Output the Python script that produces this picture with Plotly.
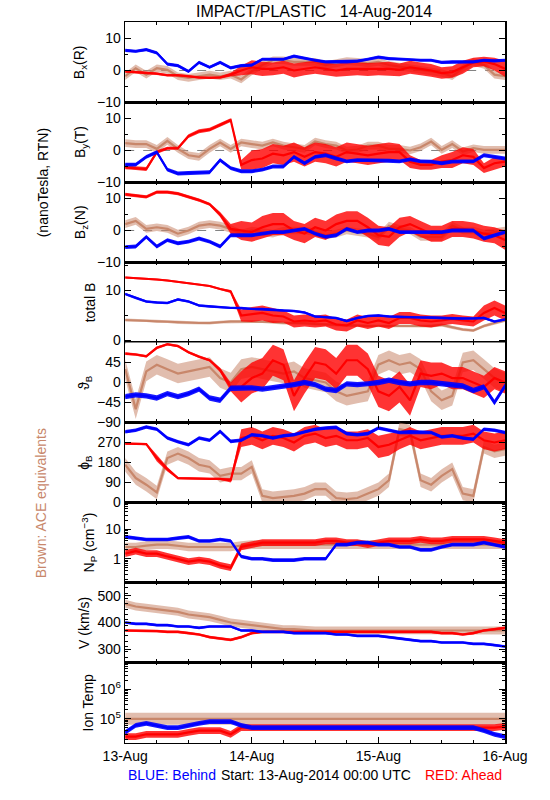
import plotly.graph_objects as go

# ---------------- data (hours since 13-Aug-2014 00:00 UTC) ----------------
hours = [0, 2, 4, 6, 8, 10, 12, 14, 16, 18, 20, 22, 24, 26, 28, 30, 32, 34, 36,
         38, 40, 42, 44, 46, 48, 50, 52, 54, 56, 58, 60, 62, 64, 66, 68, 70, 72]

day_ticks = [0, 24, 48, 72]
day_labels = ["13-Aug", "14-Aug", "15-Aug", "16-Aug"]

# Bx (R)
bx_blue = [6.3, 6.0, 6.5, 5.5, 2.0, 1.5, -0.3, 2.5, 1.0, 2.5, 0.8, 1.5, 1.7, 3.5, 3.5, 3.5, 4.5, 3.8, 3.2,
           2.7, 2.7, 2.7, 2.9, 3.5, 4.2, 3.7, 3.5, 3.5, 3.2, 3.2, 2.5, 2.7, 2.7, 2.7, 3.2, 3.0, 3.2]
bx_red = [-0.3, -0.5, -0.8, -1.0, -1.5, -1.5, -1.8, -2.2, -2.3, -2.2, -1.3, 0.0, 1.0, 0.5, 0.5, 1.0, 0.0, 0.5, 1.0,
          0.5, 0.0, 0.5, 0.5, 0.3, 0.5, 0.5, 0.2, 1.0, 0.5, 0.0, -0.8, -0.5, 1.0, 2.5, 2.8, 2.0, 0.5]
bx_ace = [-1.8, 0.7, -1.3, 0.7, 0.2, -1.8, -2.3, -1.8, -1.3, -1.8, -1.3, -2.8, -0.3, 1.7, 3.2, 3.2, 2.7, 2.7, 2.7,
          1.7, 2.2, 2.9, 2.7, 2.2, 2.7, 1.7, 1.2, 0.7, 0.2, -0.3, -0.8, -1.8, 0.7, 2.7, 1.7, -1.3, -1.8]
bx_red_spread = [0.4, 0.4, 0.4, 0.4, 0.4, 0.4, 0.4, 0.4, 0.4, 0.4, 0.6, 1.5, 2.2, 2.2, 2.0, 2.0, 2.2, 2.0, 2.0,
                 2.0, 2.0, 2.2, 2.0, 2.0, 2.0, 2.2, 2.0, 2.0, 2.0, 2.0, 1.8, 1.8, 2.0, 1.5, 1.5, 2.0, 2.5]

# By (T)
by_blue = [-4.4, -4.4, -2.0, -0.5, -6.0, -7.2, -7.0, -7.0, -6.8, -3.0, -5.5, -6.5, -6.5, -6.0, -5.0, -5.0, -2.0, -4.0, -2.0,
           -1.5, -2.5, -3.4, -3.0, -3.0, -3.0, -3.2, -3.4, -2.8, -3.4, -3.5, -4.0, -3.5, -3.4, -3.4, -1.5, -2.0, -2.5]
by_red = [-5.3, -5.5, -5.8, -0.5, 0.7, 0.7, 4.5, 6.0, 6.5, 8.0, 9.5, -4.5, -3.0, -2.5, -1.0, -1.5, -0.5, -2.0, -0.5,
          -1.0, -2.0, -0.5, -1.0, -1.5, -1.0, -0.5, -0.5, -3.5, -4.5, -4.5, -3.5, -3.0, -1.5, -2.0, -5.5, -4.0, -3.5]
by_ace = [2.3, 2.0, 2.0, 0.5, 3.0, 0.5, -1.5, -2.0, 0.5, 2.5, 0.5, 2.5, 2.0, 1.5, 2.5, 1.5, 1.0, 0.5, 2.8,
          2.0, 1.5, 0.0, 0.3, 1.5, 1.5, 0.5, 0.5, 0.0, 1.0, 2.8, 0.2, 2.0, -0.3, 0.7, 0.2, 0.2, 0.2]
by_red_spread = [0.6, 0.6, 0.6, 0.6, 0.5, 0.5, 0.6, 0.6, 0.6, 0.6, 0.6, 1.5, 3.0, 3.0, 3.0, 3.0, 3.0, 3.0, 3.0,
                 3.0, 3.0, 3.0, 3.0, 3.0, 3.0, 3.0, 2.5, 2.0, 1.5, 1.5, 2.0, 2.5, 2.5, 2.5, 1.5, 2.0, 1.5]

# Bz (N)
bz_blue = [-5.2, -5.0, -2.0, -5.0, -3.0, -4.0, -3.5, -2.5, -3.5, -5.0, -1.5, -1.5, -1.5, -1.0, -0.5, -0.5, 0.0, 0.5, -1.0,
           -2.0, -1.5, 0.5, -0.5, 0.0, 0.0, 0.5, -0.5, -0.5, -0.5, -0.5, -0.5, 0.0, 0.0, 0.0, -2.5, -1.5, -0.5]
bz_red = [11.3, 11.0, 10.5, 12.0, 12.0, 11.5, 10.5, 9.5, 8.2, 5.0, 0.5, 0.0, -0.5, 1.0, 2.0, 2.0, 0.0, -1.0, 1.0,
          0.0, 2.0, 3.0, 3.0, 1.0, -1.5, -2.0, 1.0, 2.0, 0.5, -1.0, -1.0, 0.5, 0.5, 0.0, -1.0, -1.5, -3.0]
bz_ace = [2.0, 3.0, 0.5, 1.0, 0.5, -1.0, 0.0, 1.5, 2.0, 1.5, 0.5, -1.0, 0.0, -0.5, -1.0, 0.0, 0.0, 0.0, -0.5,
          -1.5, -1.0, 0.0, -0.5, -1.0, -2.0, 1.5, 0.5, 0.0, -2.0, -2.0, -2.0, 1.5, 0.0, 0.0, -1.0, -0.5, 0.0]
bz_red_spread = [0.5, 0.5, 0.5, 0.5, 0.5, 0.5, 0.5, 0.5, 0.5, 0.8, 1.5, 3.0, 3.0, 3.5, 3.5, 3.5, 3.0, 3.0, 3.0,
                 3.0, 3.0, 3.0, 3.0, 3.0, 3.0, 3.0, 3.0, 2.5, 2.5, 2.5, 2.5, 2.5, 2.5, 2.5, 2.5, 2.5, 3.0]

# total B
bt_blue = [9.3, 8.5, 7.8, 7.6, 7.5, 8.2, 7.8, 7.0, 6.8, 6.6, 6.5, 6.5, 6.3, 6.3, 6.1, 6.0, 5.9, 5.6, 4.8,
           4.7, 4.5, 3.9, 4.5, 4.9, 5.0, 4.8, 4.7, 4.7, 4.6, 4.6, 4.5, 4.4, 4.4, 4.4, 4.5, 3.8, 4.2]
bt_red = [12.6, 12.5, 12.3, 12.2, 12.0, 11.7, 11.5, 11.2, 10.9, 10.3, 9.8, 5.0, 5.2, 5.5, 5.0, 4.8, 3.8, 4.0, 3.8,
          4.0, 3.2, 3.0, 4.0, 3.5, 4.0, 3.5, 4.5, 4.5, 4.0, 3.8, 4.0, 4.3, 4.0, 3.8, 5.5, 6.5, 5.5]
bt_ace = [4.1, 4.0, 4.0, 3.8, 3.8, 3.6, 3.5, 3.5, 3.5, 3.7, 3.8, 3.8, 3.8, 3.8, 3.7, 3.5, 3.5, 3.5, 3.3,
          3.2, 3.1, 3.0, 2.9, 2.9, 2.9, 2.9, 2.9, 2.9, 2.9, 2.9, 3.1, 2.6, 2.2, 2.0, 2.9, 3.5, 4.0]
bt_red_spread = [0.2, 0.2, 0.2, 0.2, 0.2, 0.2, 0.2, 0.2, 0.2, 0.2, 0.3, 1.2, 1.5, 1.5, 1.5, 1.2, 1.2, 1.2, 1.2,
                 1.2, 1.2, 1.2, 1.2, 1.2, 1.2, 1.2, 1.2, 1.2, 1.2, 1.2, 1.0, 1.0, 1.0, 1.0, 1.5, 1.5, 1.5]

# theta_B (deg)
th_blue = [-32, -28, -30, -35, -25, -32, -25, -15, -35, -40, -13, -13, -12, -15, -12, -8, -5, 0, -5,
           -15, -18, -3, -5, -3, 0, 5, 0, -3, 0, 0, -3, -5, -8, -18, -10, -45, -8]
th_red = [65, 63, 59, 78, 86, 82, 68, 58, 50, 28, -10, -10, 10, 20, 50, 40, -30, 10, 45,
          40, 20, 50, 50, 30, -20, -30, -10, -40, 20, 15, 20, 10, 10, 0, -10, 10, 0]
th_ace = [30, -60, 25, 40, 30, 20, 25, 30, 35, 10, 0, 30, 35, 30, 25, 20, 25, 10, 5,
          0, -20, -30, -25, -20, 40, 50, 40, 45, 30, -20, -40, -30, 45, 50, 30, 10, 0]
th_red_spread = [3, 3, 3, 3, 3, 3, 3, 3, 3, 5, 10, 35, 35, 35, 35, 35, 35, 35, 35,
                 35, 35, 35, 35, 35, 35, 35, 35, 35, 30, 30, 25, 25, 25, 25, 25, 25, 25]

# phi_B (deg)
ph_blue = [318, 325, 340, 330, 290, 273, 260, 290, 280, 320, 275, 280, 305, 300, 290, 300, 305, 318, 330,
           335, 338, 310, 305, 310, 335, 325, 315, 318, 315, 315, 295, 300, 290, 285, 330, 325, 315]
ph_red = [265, 265, 263, 200, 150, 110, 108, 108, 106, 106, 100, 290, 300, 280, 300, 290, 270, 300, 310,
          290, 300, 280, 280, 290, 250, 260, 280, 300, 280, 290, 300, 300, 300, 310, 280, 270, 280]
ph_ace = [170, 110, 80, 45, 200, 220, 200, 170, 160, 120, 130, 130, 160, 30, 20, 25, 30, 40, 60,
          60, 20, 15, 20, 40, 60, 100, 330, 320, 100, 80, 120, 150, 40, 30, 250, 230, 240]
ph_red_spread = [5, 5, 5, 15, 10, 5, 5, 5, 5, 5, 10, 40, 40, 40, 40, 40, 40, 40, 40,
                 40, 40, 40, 40, 40, 50, 50, 40, 40, 40, 40, 40, 40, 40, 40, 40, 40, 40]

# proton density (cm^-3)
np_blue = [5.5, 5.0, 4.5, 4.5, 4.5, 5.0, 5.5, 4.0, 4.0, 4.5, 4.0, 1.2, 1.0, 1.0, 0.9, 0.9, 0.9, 1.0, 1.0,
           1.0, 3.0, 3.0, 3.5, 3.5, 3.0, 3.0, 2.5, 2.5, 2.0, 2.0, 2.5, 3.0, 3.0, 3.0, 3.5, 3.0, 2.5]
np_red = [1.5, 1.8, 1.5, 1.5, 1.2, 1.0, 0.8, 0.9, 0.8, 0.6, 0.5, 2.5, 3.0, 3.5, 3.5, 3.5, 3.5, 3.5, 3.5,
          4.0, 4.0, 3.5, 3.5, 3.0, 3.5, 4.0, 4.0, 4.0, 4.5, 4.0, 4.0, 4.5, 4.5, 4.5, 4.5, 4.0, 3.5]
np_ace = [2.5, 2.5, 2.8, 3.0, 3.0, 2.8, 2.5, 2.5, 2.5, 2.5, 2.5, 2.8, 3.0, 3.0, 3.0, 3.0, 3.0, 3.0, 3.0,
          3.0, 3.0, 3.0, 3.0, 3.0, 3.0, 3.0, 3.0, 3.0, 3.0, 3.0, 3.0, 3.0, 3.0, 3.0, 3.0, 3.0, 3.0]

# bulk speed (km/s)
v_blue = [400, 395, 395, 390, 390, 385, 385, 380, 385, 385, 385, 370, 370, 365, 365, 365, 360, 360, 360,
          360, 355, 355, 350, 350, 350, 345, 340, 335, 330, 330, 325, 325, 325, 320, 320, 315, 310]
v_red = [370, 370, 368, 368, 365, 365, 360, 355, 345, 340, 335, 345, 360, 365, 365, 365, 365, 365, 365,
         365, 365, 365, 365, 365, 365, 365, 365, 365, 365, 365, 360, 360, 355, 360, 370, 375, 380]
v_ace = [470, 460, 455, 450, 445, 440, 430, 425, 420, 410, 400, 395, 390, 385, 380, 375, 375, 372, 370,
         370, 370, 370, 370, 370, 370, 370, 370, 370, 370, 370, 370, 370, 370, 370, 370, 370, 370]

# ion temperature (K)
t_blue = [3.5e4, 6e4, 7e4, 6e4, 5e4, 5e4, 6e4, 7e4, 8e4, 8e4, 8e4, 6e4, 5e4, 5e4, 5e4, 5e4, 5e4, 5e4, 5e4,
          5e4, 5e4, 5e4, 5e4, 5e4, 5e4, 5e4, 5e4, 5e4, 5e4, 5e4, 5e4, 5e4, 5e4, 5e4, 4e4, 3e4, 2.5e4]
t_red = [2.5e4, 2.5e4, 3e4, 3e4, 3e4, 3e4, 3.5e4, 4e4, 4e4, 4e4, 3e4, 5e4, 5e4, 5e4, 5e4, 5e4, 5e4, 5e4, 5e4,
         5e4, 5e4, 5e4, 5e4, 5e4, 5e4, 5e4, 5e4, 5e4, 5e4, 5e4, 5e4, 5e4, 5e4, 5e4, 5e4, 5e4, 5.5e4]
t_ace = [1e5, 1e5, 1e5, 1e5, 1e5, 1e5, 1e5, 1e5, 1e5, 1e5, 1e5, 1e5, 1e5, 1e5, 1e5, 1e5, 1e5, 1e5, 1e5,
         1e5, 1e5, 1e5, 1e5, 1e5, 1e5, 1e5, 1e5, 1e5, 1e5, 1e5, 1e5, 1e5, 1e5, 1e5, 1e5, 1e5, 1e5]

# ---------------- styling ----------------
BLUE = "#0000ff"
RED = "#ff0000"
BROWN = "#c8876b"
FONT = "Liberation Sans"

W, H = 550, 800
X0, X1 = 111.5, 526.0
TOP, BOT = 22.7, 750.0
NP = 9
ph = (BOT - TOP) / NP


def py(pix):
    return 1 - pix / H


def px(pix):
    return pix / W


panels = [
    dict(title="B<sub>x</sub>(R)", rng=[-10, 15], log=False, tv=[-10, 0, 10], tt=["−10", "0", "10"], minor=5,
         zero=True, tx=63),
    dict(title="B<sub>y</sub>(T)", rng=[-10, 15], log=False, tv=[-10, 0, 10], tt=["−10", "0", "10"], minor=5,
         zero=True, tx=64),
    dict(title="B<sub>z</sub>(N)", rng=[-10, 15], log=False, tv=[-10, 0, 10], tt=["−10", "0", "10"], minor=5,
         zero=True, tx=64),
    dict(title="total B", rng=[-0.4, 15.6], log=False, tv=[0, 10], tt=["0", "10"], minor=5, zero=False, tx=74),
    dict(title="ϑ<sub>B</sub>", rng=[-90, 90], log=False, tv=[-90, -45, 0, 45], tt=["−90", "−45", "0", "45"],
         minor=None, zero=False, tx=68),
    dict(title="ϕ<sub>B</sub>", rng=[0, 360], log=False, tv=[0, 90, 180, 270], tt=["0", "90", "180", "270"],
         minor=None, zero=False, tx=68),
    dict(title="N<sub>P</sub> (cm<sup>−3</sup>)", rng=[-0.8, 1.9], log=True, tv=[1, 10], tt=["1", "10"],
         minor="log", zero=False, tx=73),
    dict(title="V (km/s)", rng=[250, 550], log=False, tv=[300, 400, 500], tt=["300", "400", "500"], minor=20,
         zero=False, tx=67),
    dict(title="Ion Temp", rng=[4.2, 6.9], log=True, tv=[1e5, 1e6], tt=["10<sup>5</sup>", "10<sup>6</sup>"],
         minor="log", zero=False, tx=72),
]

series = [
    (bx_ace, bx_red, bx_blue, bx_red_spread, 1.2, 0.5),
    (by_ace, by_red, by_blue, by_red_spread, 1.2, 0.6),
    (bz_ace, bz_red, bz_blue, bz_red_spread, 1.2, 0.6),
    (bt_ace, bt_red, bt_blue, bt_red_spread, 0.3, 0.25),
    (th_ace, th_red, th_blue, th_red_spread, 22, 6),
    (ph_ace, ph_red, ph_blue, ph_red_spread, 30, 8),
    (np_ace, np_red, np_blue, None, 1.4, 1.15),
    (v_ace, v_red, v_blue, None, 15, 5),
    (t_ace, t_red, t_blue, None, 1.6, 1.2),
]

fig = go.Figure()


def rgba(hexc, a):
    h = hexc.lstrip("#")
    return "rgba(%d,%d,%d,%.2f)" % (int(h[0:2], 16), int(h[2:4], 16), int(h[4:6], 16), a)


def add_band(k, center, spread, color, alpha, log):
    xa = "x" if k == 0 else "x%d" % (k + 1)
    ya = "y" if k == 0 else "y%d" % (k + 1)
    if log:
        lo = [c / spread for c in center]
        hi = [c * spread for c in center]
    else:
        lo = [c - s for c, s in zip(center, spread)]
        hi = [c + s for c, s in zip(center, spread)]
    fig.add_trace(go.Scatter(x=hours + hours[::-1], y=hi + lo[::-1], fill="toself", fillcolor=rgba(color, alpha),
                             line=dict(width=0), mode="lines", hoverinfo="skip", showlegend=False,
                             xaxis=xa, yaxis=ya))
    fig.add_trace(go.Scatter(x=hours, y=center, mode="lines", line=dict(color=color, width=2.2),
                             showlegend=False, xaxis=xa, yaxis=ya))


for k, (p, s) in enumerate(zip(panels, series)):
    ace, red, blue, rsp, ace_sp, blue_sp = s
    log = p["log"]
    n = len(hours)
    if log:
        add_band(k, ace, ace_sp, BROWN, 0.55, True)
        add_band(k, red, 1.3, RED, 0.8, True)
        add_band(k, blue, blue_sp, BLUE, 0.9, True)
    else:
        add_band(k, ace, [ace_sp] * n, BROWN, 0.55, False)
        add_band(k, red, rsp if rsp is not None else [blue_sp] * n, RED, 0.8, False)
        add_band(k, blue, [blue_sp] * n, BLUE, 0.9, False)

layout = dict(
    width=W, height=H, autosize=False, paper_bgcolor="white", plot_bgcolor="white",
    margin=dict(l=0, r=0, t=0, b=0, pad=0), showlegend=False,
    font=dict(family=FONT, size=14, color="black"),
)

shapes = []
annotations = []
for k, p in enumerate(panels):
    top = TOP + k * ph
    bot = top + ph
    xn = "xaxis" if k == 0 else "xaxis%d" % (k + 1)
    yn = "yaxis" if k == 0 else "yaxis%d" % (k + 1)
    yref = "y" if k == 0 else "y%d" % (k + 1)
    xref = "x" if k == 0 else "x%d" % (k + 1)
    last = k == NP - 1
    layout[xn] = dict(
        domain=[px(X0), px(X1)], anchor=yref, range=[0, 72], showgrid=False, zeroline=False,
        showline=True, linecolor="black", linewidth=1.5, mirror="ticks",
        ticks="inside", ticklen=6, tickwidth=1, tickcolor="black",
        tickmode="array", tickvals=day_ticks, ticktext=day_labels if last else ["", "", "", ""],
        showticklabels=last, tickfont=dict(size=14),
        minor=dict(ticks="inside", ticklen=3, tickwidth=1, tickcolor="black", tickmode="array",
                   tickvals=[6, 12, 18, 30, 36, 42, 54, 60, 66]),
    )
    ya = dict(
        domain=[py(bot), py(top)], anchor=xref, range=p["rng"], showgrid=False, zeroline=False,
        showline=True, linecolor="black", linewidth=1.5, mirror="ticks",
        ticks="inside", ticklen=6, tickwidth=1, tickcolor="black",
        tickmode="array", tickvals=p["tv"], ticktext=p["tt"], tickfont=dict(size=14),
    )
    if p["log"]:
        ya["type"] = "log"
        mv = []
        for dec in [0.1, 1, 10, 100, 1e4, 1e5, 1e6, 1e7]:
            for m in range(2, 10):
                mv.append(dec * m)
        ya["minor"] = dict(ticks="inside", ticklen=3, tickwidth=1, tickcolor="black", tickmode="array", tickvals=mv)
    elif p["minor"]:
        lo, hi = p["rng"]
        mv = list(range(int(lo), int(hi) + 1, p["minor"]))
        ya["minor"] = dict(ticks="inside", ticklen=3, tickwidth=1, tickcolor="black", tickmode="array", tickvals=mv)
    layout[yn] = ya
    if p["zero"]:
        shapes.append(dict(type="line", xref=xref, yref=yref, x0=0, x1=72, y0=0, y1=0,
                           line=dict(color="#808080", width=1, dash="dash"), layer="below"))
    annotations.append(dict(text=p["title"], xref="paper", yref="paper", x=px(p["tx"]), y=py((top + bot) / 2),
                            textangle=-90, showarrow=False, font=dict(size=14), xanchor="center", yanchor="middle"))

annotations += [
    dict(text="IMPACT/PLASTIC   14-Aug-2014", xref="paper", yref="paper", x=px(318), y=py(12), showarrow=False,
         font=dict(size=16), xanchor="center", yanchor="middle"),
    dict(text="(nanoTesla, RTN)", xref="paper", yref="paper", x=px(22), y=py(185), textangle=-90, showarrow=False,
         font=dict(size=14), xanchor="center", yanchor="middle"),
    dict(text="Brown: ACE equivalents", xref="paper", yref="paper", x=px(20), y=py(508), textangle=-90,
         showarrow=False, font=dict(size=14, color=BROWN), xanchor="center", yanchor="middle"),
    dict(text="BLUE: Behind", xref="paper", yref="paper", x=px(112), y=py(783), showarrow=False,
         font=dict(size=14, color=BLUE), xanchor="left", yanchor="middle"),
    dict(text="Start: 13-Aug-2014 00:00 UTC", xref="paper", yref="paper", x=px(320), y=py(783), showarrow=False,
         font=dict(size=14), xanchor="center", yanchor="middle"),
    dict(text="RED: Ahead", xref="paper", yref="paper", x=px(525), y=py(783), showarrow=False,
         font=dict(size=14, color=RED), xanchor="right", yanchor="middle"),
]
layout["shapes"] = shapes
layout["annotations"] = annotations
fig.update_layout(**layout)
fig.write_html("out.html", config={"staticPlot": True, "displayModeBar": False, "responsive": False})

# remove default page margins so the figure sits at the window origin
with open("out.html", "r", encoding="utf-8") as f:
    html = f.read()
html = html.replace("<head>", "<head><style>html,body{margin:0;padding:0;overflow:hidden;}</style>", 1)
with open("out.html", "w", encoding="utf-8") as f:
    f.write(html)
